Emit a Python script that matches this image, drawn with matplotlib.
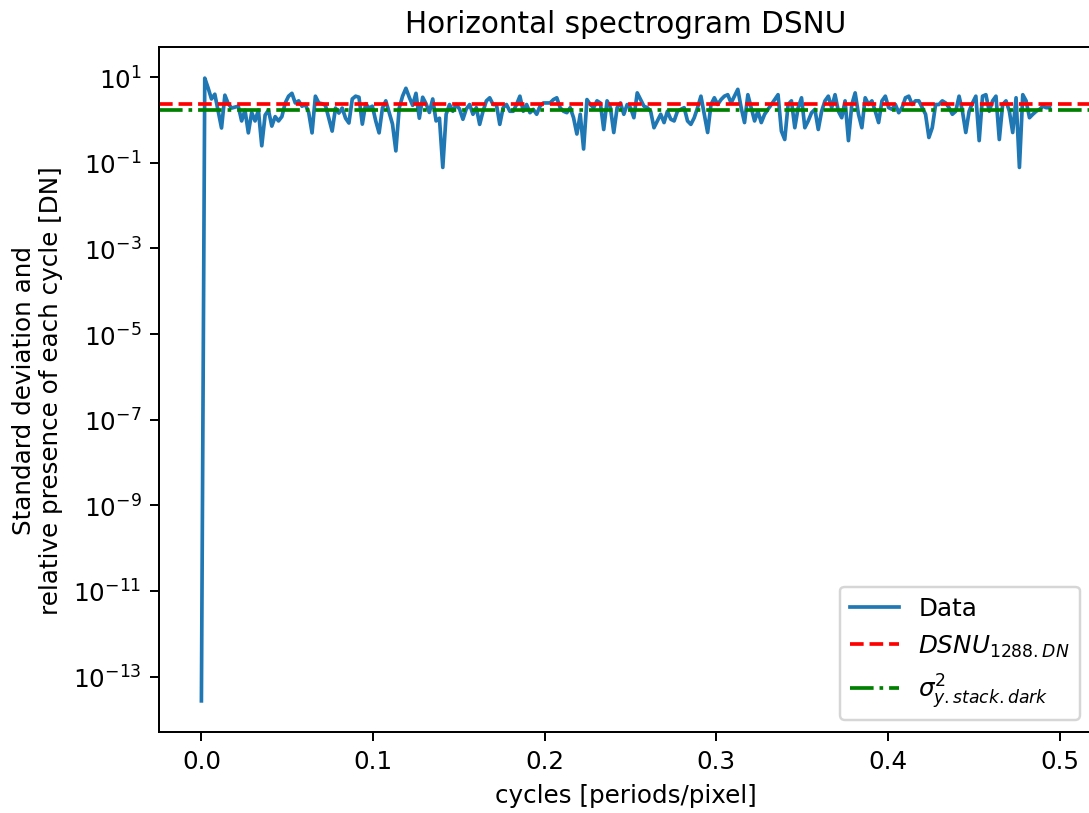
import numpy as np
import matplotlib
matplotlib.use("Agg")
import matplotlib.pyplot as plt

# spectrogram values (DN), one point per 1/512 cycles
spec_a = [2.7e-14, 9.5, 5.6, 3.1, 4.0, 1.6, 0.65, 3.8, 2.4, 1.9,
          2.0, 2.1, 0.95, 1.7, 0.50, 1.5, 0.95, 1.7, 0.25, 1.3,
          1.7, 0.72, 1.2, 0.95, 1.2, 2.5, 3.6, 4.2, 2.5, 2.8,
          2.1, 2.3, 1.5, 0.5, 3.6, 2.5]
spec_b = [2.4, 2.2, 1.1, 0.55, 1.9, 1.45, 1.9, 1.1, 0.85, 3.1,
          3.6, 3.4, 0.8, 2.4, 1.9, 2.1, 0.95, 0.5, 1.9, 2.8,
          1.5, 0.8, 0.19, 1.9, 3.6, 5.5, 3.4, 2.2, 4.2, 1.1,
          3.4, 2.4, 1.5, 3.1, 0.95, 1.1]
spec_c = [0.078, 1.36, 2.3, 1.6, 2.3, 1.8, 1.04, 1.8, 2.3, 1.36,
          1.94, 0.79, 1.6, 2.8, 3.3, 2.3, 2.3, 0.79, 1.94, 2.3,
          1.6, 1.6, 2.3, 3.6, 1.6, 2.3, 1.48, 1.77, 1.36, 2.1,
          2.5, 2.5, 2.5, 3.0, 3.3, 1.94, 1.6]
spec_d = [1.48, 1.94, 1.13, 0.47, 1.36, 0.21, 3.0, 2.3, 1.94, 2.8,
          2.5, 0.6, 2.8, 1.94, 0.51, 1.94, 2.5, 1.36, 2.3, 1.94,
          1.13, 4.3, 3.0, 2.1, 1.94, 1.6, 0.66, 0.95, 1.36, 0.87,
          1.6, 1.04, 0.95, 1.6, 1.77, 1.94]
spec_e = [0.95, 0.79, 1.13, 1.94, 3.6, 1.36, 0.51, 2.3, 3.3, 2.3,
          3.0, 3.6, 3.9, 2.5, 3.6, 5.2, 1.94, 0.87, 3.9, 1.94,
          0.95, 1.6, 0.87, 1.36, 1.77, 2.3, 3.0, 3.9, 0.55, 0.35,
          2.3, 2.8, 0.66, 1.94, 3.3, 0.66, 0.95]
spec_f = [1.48, 1.77, 0.6, 1.6, 2.8, 3.6, 1.94, 3.9, 1.6, 1.13,
          2.8, 0.33, 2.3, 4.3, 1.36, 0.66, 3.3, 2.3, 2.8, 1.6,
          0.87, 2.8, 3.6, 1.94, 1.77, 2.3, 1.48, 1.94, 3.3, 3.6,
          2.3, 2.8, 2.8, 1.94, 1.36, 0.39]
spec_g = [0.66, 2.3, 2.3, 2.8, 2.5, 1.94, 1.36, 1.6, 3.6, 1.6,
          0.51, 1.6, 2.5, 3.6, 0.33, 3.6, 3.9, 1.6, 2.8, 3.6,
          0.35, 2.3, 2.8, 1.6, 0.51, 3.3, 0.078, 3.9, 2.8, 1.13,
          1.36, 1.6, 1.77, 2.1, 1.94, 1.94]

spectrum = np.array(spec_a + spec_b + spec_c + spec_d + spec_e + spec_f + spec_g)
cycles = np.arange(len(spectrum)) / 512

dsnu_level = 2.36      # DSNU_1288.DN
sigma_dark = 1.71      # sigma^2 y.stack.dark

DPI = 177
fig = plt.figure(figsize=(1089 / DPI, 814 / DPI), dpi=DPI)
# axes runs a little past the right edge, as in the reference
ax = fig.add_axes([159 / 1089, 81 / 814, 933 / 1089, 685 / 814])

ax.plot(cycles, spectrum, label="Data")
ax.axhline(dsnu_level, color="r", ls="--", label="$DSNU_{1288.DN}$")
ax.axhline(sigma_dark, color="g", ls="-.", label="$\\sigma^2_{y.stack.dark}$")
ax.set_yscale("log")

ax.set_title("Horizontal spectrogram DSNU")
ax.set_xlabel("cycles [periods/pixel]")
ax.set_ylabel("Standard deviation and\nrelative presence of each cycle [DN]")
ax.legend(loc="lower right")

fig.savefig("out.png", dpi=DPI)
